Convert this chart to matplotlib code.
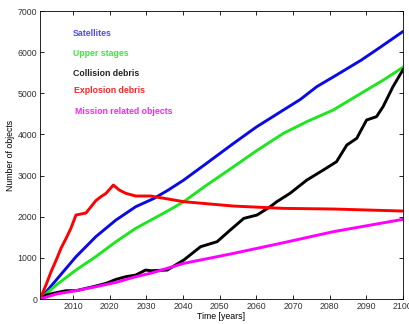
import matplotlib
matplotlib.use("Agg")
import matplotlib.pyplot as plt

plt.rcParams['font.family'] = ['Liberation Sans', 'DejaVu Sans']

# values
sat_years = [2001, 2005.4, 2010.8, 2016.2, 2021.7, 2027.1, 2032.1, 2036, 2040.2, 2046,
             2053.8, 2060, 2067.4, 2072, 2076.5, 2082, 2088.7, 2094, 2100]
sat_vals = [0, 462, 1029, 1515, 1920, 2244, 2447, 2650, 2892, 3270, 3784, 4180, 4594,
            4850, 5161, 5450, 5810, 6130, 6500]

upper_years = [2001, 2005.4, 2010.8, 2016.2, 2021.7, 2027.1, 2032.1, 2036, 2040.2, 2046,
               2053.8, 2060, 2067.4, 2074, 2081, 2090.1, 2095, 2100]
upper_vals = [0, 340, 705, 1029, 1394, 1718, 1961, 2150, 2366, 2740, 3216, 3600, 4027,
              4320, 4594, 5080, 5340, 5632]

coll_years = [2001, 2002.6, 2005.4, 2008.1, 2010.8, 2013.5, 2016.2, 2019, 2021.7, 2024.4,
              2027.1, 2029.8, 2031.2, 2035.7, 2040.2, 2044.8, 2049.3, 2052.9, 2056.6,
              2060.2, 2063.8, 2065.6, 2069.2, 2073.8, 2078.3, 2081.9, 2084.7, 2087.4,
              2090.1, 2092.8, 2094.6, 2097.3, 2100]
coll_vals = [0, 97, 154, 203, 203, 259, 316, 381, 478, 543, 583, 705, 688, 705, 948,
             1272, 1394, 1677, 1961, 2042, 2244, 2366, 2569, 2892, 3136, 3338, 3743,
             3905, 4351, 4432, 4675, 5161, 5567]

expl_years = [2001, 2002.6, 2004, 2005.4, 2006.7, 2008.1, 2009.4, 2010.8, 2012.1, 2013.5,
              2014.9, 2016.2, 2017.6, 2019, 2021, 2022.6, 2024.4, 2027.1, 2031.2,
              2040.2, 2053.8, 2067.4, 2081, 2100]
expl_vals = [0, 340, 665, 948, 1232, 1475, 1718, 2042, 2066, 2090, 2244, 2390, 2487,
             2569, 2771, 2650, 2569, 2504, 2504, 2366, 2260, 2204, 2188, 2139]

miss_years = [2001, 2005.4, 2010.8, 2016.2, 2021.7, 2027.1, 2031.7, 2040.2, 2053.8,
              2067.4, 2081, 2100]
miss_vals = [0, 122, 203, 300, 405, 543, 640, 867, 1110, 1369, 1637, 1937]

labels = ['Satellites', 'Upper stages', 'Collision debris', 'Explosion debris',
          'Mission related objects']
colors = ['#0a0ae6', '#1ee61e', '#000000', '#ff0000', '#ff00ff']
label_colors = ['#4a4aff', '#33ee33', '#222222', '#ff2222', '#ff22ff']

fig = plt.figure(figsize=(4.09, 3.24), dpi=100)
ax = fig.add_axes([0.098, 0.077, 0.887, 0.889])

series = [(sat_years, sat_vals), (upper_years, upper_vals), (coll_years, coll_vals),
          (expl_years, expl_vals), (miss_years, miss_vals)]
for (x, y), c in zip(series, colors):
    ax.plot(x, y, color=c, lw=2.1, solid_joinstyle='round')

# labels placed as text in the upper left
label_pos = [(2010, 6450), (2010, 5960), (2010, 5470), (2010.3, 5060), (2010.6, 4550)]
for (x, y), t, c in zip(label_pos, labels, label_colors):
    ax.text(x, y, t, color=c, fontsize=6.3, fontweight='bold', va='center')

ax.set_xlim(2001, 2100)
ax.set_ylim(0, 7000)
ax.set_xticks(range(2010, 2101, 10))
ax.set_yticks(range(0, 7001, 1000))
ax.tick_params(direction='in', top=True, right=True, labelsize=6.3, length=3,
               width=0.6, labelcolor='#333333', pad=2)
for s in ax.spines.values():
    s.set_linewidth(0.6)
ax.set_xlabel('Time [years]', fontsize=6.3, labelpad=1)
ax.set_ylabel('Number of objects', fontsize=6.3, labelpad=2)

fig.savefig('out.png', dpi=100)
